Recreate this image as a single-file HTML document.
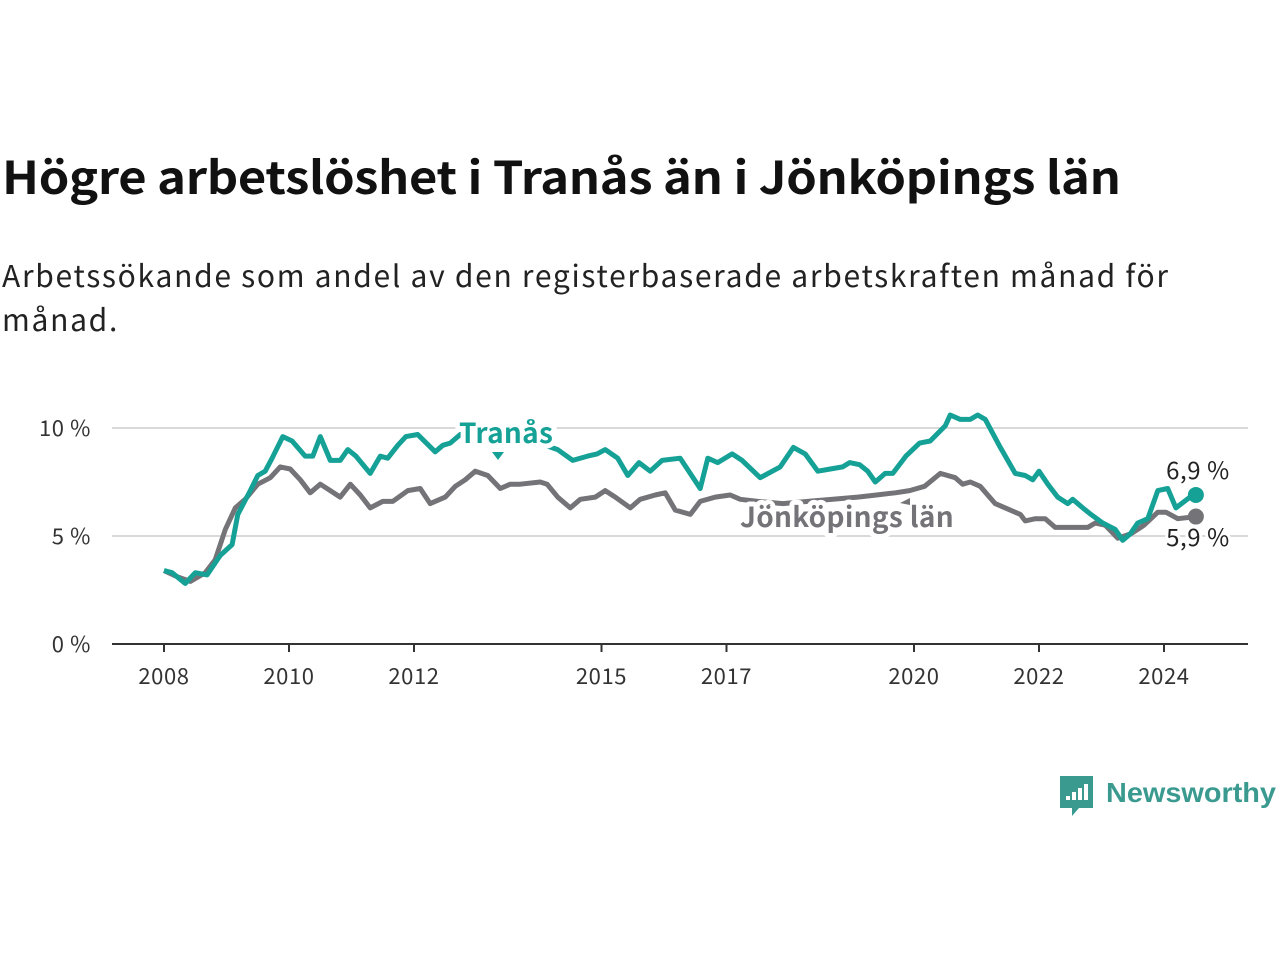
<!DOCTYPE html>
<html><head><meta charset="utf-8"><style>
body{margin:0;width:1280px;height:960px;background:#fff;overflow:hidden;font-family:"Noto Sans CJK SC","Liberation Sans",sans-serif;}
#title{position:absolute;left:2px;top:142px;font-size:45px;font-weight:700;color:#111;margin:0;letter-spacing:-0.3px;transform:scaleX(1.087);transform-origin:0 0;white-space:nowrap}
#sub{position:absolute;left:2px;top:252px;font-size:30px;line-height:44px;letter-spacing:1.7px;color:#222;width:1200px;margin:0}
svg{position:absolute;left:0;top:0}
</style></head><body>
<h1 id="title">Högre arbetslöshet i Tranås än i Jönköpings län</h1>
<p id="sub">Arbetssökande som andel av den registerbaserade arbetskraften månad för månad.</p>
<svg id="chart" width="1280" height="960"></svg>
<script>
const yTicks=[0,5,10];
const yTickLabels=["0 %","5 %","10 %"];
const xTicks=[2008,2010,2012,2015,2017,2020,2022,2024];
const tranasYears=[2008.0,2008.13,2008.34,2008.5,2008.69,2008.9,2009.09,2009.18,2009.38,2009.5,2009.62,2009.73,2009.9,2010.05,2010.26,2010.38,2010.5,2010.66,2010.82,2010.94,2011.07,2011.3,2011.46,2011.58,2011.74,2011.87,2012.06,2012.34,2012.46,2012.58,2012.74,2013.0,2013.5,2014.1,2014.3,2014.54,2014.78,2014.93,2015.06,2015.26,2015.42,2015.6,2015.78,2015.97,2016.26,2016.58,2016.7,2016.86,2017.09,2017.25,2017.54,2017.86,2018.07,2018.26,2018.46,2018.66,2018.86,2018.97,2019.13,2019.26,2019.38,2019.54,2019.66,2019.87,2020.09,2020.26,2020.5,2020.58,2020.74,2020.9,2021.02,2021.14,2021.38,2021.62,2021.78,2021.9,2022.0,2022.14,2022.3,2022.46,2022.54,2022.7,2022.83,2023.02,2023.22,2023.34,2023.46,2023.58,2023.74,2023.9,2024.06,2024.19,2024.46,2024.51];
const tranasValues=[3.4,3.3,2.8,3.3,3.2,4.1,4.6,6.0,7.1,7.8,8.0,8.6,9.6,9.4,8.7,8.7,9.6,8.5,8.5,9.0,8.7,7.9,8.7,8.6,9.2,9.6,9.7,8.9,9.2,9.3,9.7,9.6,9.5,9.2,9.0,8.5,8.7,8.8,9.0,8.6,7.8,8.4,8.0,8.5,8.6,7.2,8.6,8.4,8.8,8.5,7.7,8.2,9.1,8.8,8.0,8.1,8.2,8.4,8.3,8.0,7.5,7.9,7.9,8.7,9.3,9.4,10.1,10.6,10.4,10.4,10.6,10.4,9.1,7.9,7.8,7.6,8.0,7.4,6.8,6.5,6.7,6.3,6.0,5.6,5.3,4.8,5.1,5.6,5.8,7.1,7.2,6.3,6.9,6.9];
const jkpYears=[2008.0,2008.22,2008.42,2008.66,2008.82,2008.98,2009.14,2009.3,2009.5,2009.7,2009.86,2010.02,2010.18,2010.34,2010.5,2010.66,2010.82,2010.98,2011.14,2011.3,2011.5,2011.66,2011.9,2012.1,2012.26,2012.5,2012.66,2012.82,2012.98,2013.18,2013.38,2013.54,2013.7,2014.02,2014.13,2014.3,2014.5,2014.66,2014.9,2015.06,2015.22,2015.46,2015.62,2015.86,2016.02,2016.18,2016.42,2016.58,2016.82,2017.06,2017.22,2017.5,2017.9,2018.3,2018.7,2019.1,2019.4,2019.7,2019.93,2020.17,2020.42,2020.66,2020.78,2020.9,2021.06,2021.3,2021.54,2021.7,2021.78,2021.94,2022.1,2022.26,2022.58,2022.78,2022.9,2023.06,2023.26,2023.47,2023.68,2023.9,2024.03,2024.22,2024.51];
const jkpValues=[3.4,3.1,2.9,3.3,3.9,5.3,6.3,6.7,7.4,7.7,8.2,8.1,7.6,7.0,7.4,7.1,6.8,7.4,6.9,6.3,6.6,6.6,7.1,7.2,6.5,6.8,7.3,7.6,8.0,7.8,7.2,7.4,7.4,7.5,7.4,6.8,6.3,6.7,6.8,7.1,6.8,6.3,6.7,6.9,7.0,6.2,6.0,6.6,6.8,6.9,6.7,6.6,6.5,6.6,6.7,6.8,6.9,7.0,7.1,7.3,7.9,7.7,7.4,7.5,7.3,6.5,6.2,6.0,5.7,5.8,5.8,5.4,5.4,5.4,5.6,5.5,4.9,5.1,5.5,6.1,6.1,5.8,5.9];
const tranasLast="6,9 %", jkpLast="5,9 %";

const NS="http://www.w3.org/2000/svg";
const svg=document.getElementById('chart');
const X=y=>164+(y-2008)*62.5;
const Y=v=>644-v*21.6;
function mk(tag,attrs,parent){const e=document.createElementNS(NS,tag);for(const k in attrs)e.setAttribute(k,attrs[k]);(parent||svg).appendChild(e);return e;}
yTicks.forEach((t,i)=>{
  if(t>0){const g=mk('line',{x1:112,x2:1248,y1:Y(t),y2:Y(t),stroke:'#d9d9d9','stroke-width':2});
  
  }
  const l=mk('text',{x:91,y:Y(t)+8,'text-anchor':'end','font-size':22,'letter-spacing':0.6,fill:'#333'});
  l.textContent=yTickLabels[i];
  
  
});
const ax=mk('line',{x1:112,x2:1248,y1:644,y2:644,stroke:'#333','stroke-width':2});


xTicks.forEach(t=>{
  mk('line',{x1:X(t),x2:X(t),y1:644,y2:652,stroke:'#333','stroke-width':2});
  const l=mk('text',{x:X(t),y:684,'text-anchor':'middle','font-size':22,'letter-spacing':0.6,fill:'#333'});
  l.textContent=t;
  
  
});
function line(xs,vs,col,name){
  const d=xs.map((x,i)=>(i?'L':'M')+X(x).toFixed(1)+','+Y(vs[i]).toFixed(1)).join('');
  const p=mk('path',{d:d,fill:'none',stroke:col,'stroke-width':5,'stroke-linejoin':'round'});
  
  
  const n=xs.length-1;
  const c=mk('circle',{cx:X(xs[n]),cy:Y(vs[n]),r:8,fill:col});
  
  
}
line(jkpYears,jkpValues,'#747378','series-jonkopings-lan');
line(tranasYears,tranasValues,'#16a197','series-tranas');
function lab(x,y,txt,col,name){
  const t=mk('text',{x:x,y:y,'font-size':28,'font-weight':700,'letter-spacing':0.3,fill:col,stroke:'#fff','stroke-width':10,'paint-order':'stroke','stroke-linejoin':'round'});
  t.textContent=txt;
  
  
}
lab(459,443,'Tranås','#16a197','label-tranas');
lab(740,527,'Jönköpings län','#747378','label-jonkopings-lan');
mk('path',{d:'M492,452 l6,8 l6,-8 z',fill:'#16a197'});
mk('path',{d:'M900,503 l10,-5 l0,7 z',fill:'#747378'});
function vl(x,y,txt,name){const t=mk('text',{x:x,y:y,'text-anchor':'middle','font-size':24,'letter-spacing':0.6,fill:'#222',stroke:'#fff','stroke-width':6,'paint-order':'stroke'});t.textContent=txt;

}
vl(1198,479,tranasLast,'value-label-tranas');
vl(1198,546,jkpLast,'value-label-jonkopings-lan');
// logo
const lg=mk('g',{});


mk('path',{d:'M1060,776 h33 v32 h-14 l-7,8 v-8 h-12 z',fill:'#3a9a90'},lg);
[[1066,796,4],[1072,792,8],[1078,788,12],[1084,784,16]].forEach(b=>mk('rect',{x:b[0],y:b[1],width:4,height:b[2],fill:'#fff'},lg));
const lt=mk('text',{x:1106,y:802,'font-size':28,'font-weight':700,fill:'#3a9a90','font-family':'"Liberation Sans",sans-serif',textLength:170,lengthAdjust:'spacingAndGlyphs'},lg);
lt.textContent='Newsworthy';
</script>
</body></html>
